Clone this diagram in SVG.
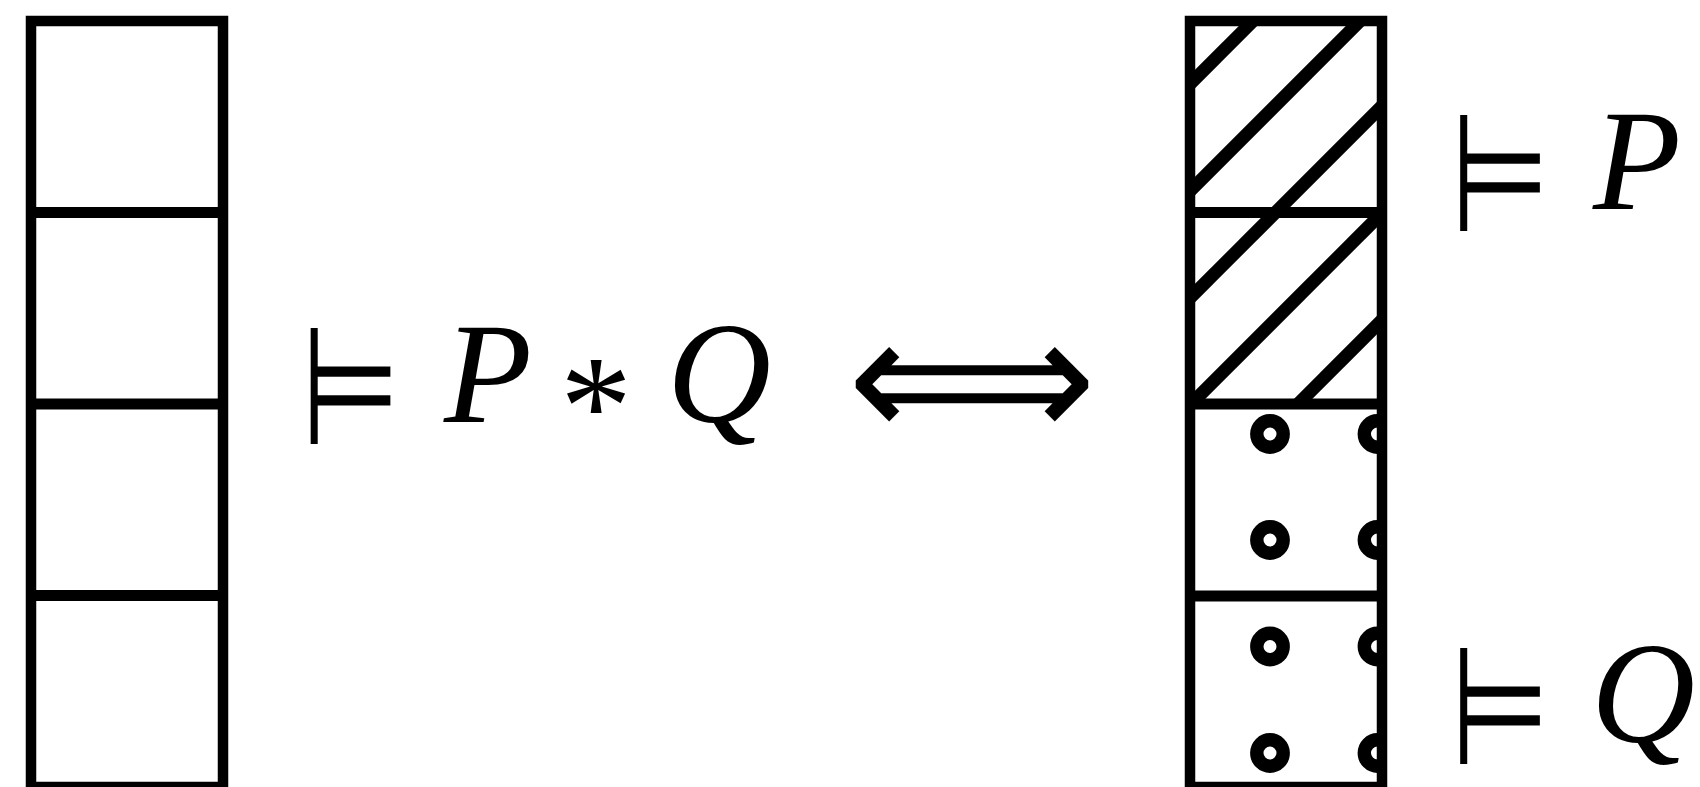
<svg xmlns="http://www.w3.org/2000/svg" width="1700" height="787" viewBox="0 0 1700 787">
<style>
.frame{fill:none;stroke:#000;stroke-width:10.5}
.div{stroke:#000;stroke-width:11}
.hatch{stroke:#000;stroke-width:13}
.dot{fill:none;stroke:#000;stroke-width:13.4}
.math{font-family:"Liberation Serif","Times New Roman",serif;font-style:italic;font-size:144px;fill:#000}
.op{font-family:"Liberation Serif","Times New Roman",serif;font-size:144px;fill:#000}
.sym{font-family:"DejaVu Sans",sans-serif;font-size:144px;fill:#000}
</style>
<defs>
<clipPath id="clipHatch"><rect x="1190" y="21" width="192" height="383"/></clipPath>
<clipPath id="clipDots"><rect x="1190" y="404" width="192" height="383"/></clipPath>
</defs>
<rect width="1700" height="787" fill="#fff"/>
<g id="left-column">
<rect class="frame" x="31" y="21" width="192" height="766"/>
<line class="div" x1="31" y1="212.5" x2="223" y2="212.5"/>
<line class="div" x1="31" y1="404" x2="223" y2="404"/>
<line class="div" x1="31" y1="595.5" x2="223" y2="595.5"/>
</g>
<g id="right-column">
<g clip-path="url(#clipHatch)">
<line class="hatch" x1="1100" y1="174" x2="1500" y2="-226"/>
<line class="hatch" x1="1100" y1="281" x2="1500" y2="-119"/>
<line class="hatch" x1="1100" y1="388" x2="1500" y2="-12"/>
<line class="hatch" x1="1100" y1="495" x2="1500" y2="95"/>
<line class="hatch" x1="1100" y1="602" x2="1500" y2="202"/>
</g>
<g clip-path="url(#clipDots)">
<circle class="dot" cx="1270" cy="434" r="13.2"/>
<circle class="dot" cx="1377.5" cy="434" r="13.2"/>
<circle class="dot" cx="1270" cy="540" r="13.2"/>
<circle class="dot" cx="1377.5" cy="540" r="13.2"/>
<circle class="dot" cx="1270" cy="646.5" r="13.2"/>
<circle class="dot" cx="1377.5" cy="646.5" r="13.2"/>
<circle class="dot" cx="1270" cy="753" r="13.2"/>
<circle class="dot" cx="1377.5" cy="753" r="13.2"/>
</g>
<rect class="frame" x="1190" y="21" width="192" height="766"/>
<line class="div" x1="1190" y1="212.5" x2="1382" y2="212.5"/>
<line class="div" x1="1190" y1="404" x2="1382" y2="404"/>
<line class="div" x1="1190" y1="596" x2="1382" y2="596"/>
</g>
<g id="label-whole">
<text class="sym" transform="translate(301,443.6) scale(0.79,1.15)">⊨</text>
<text class="math" x="444" y="422">P</text>
<text class="op" x="596" y="455" text-anchor="middle">*</text>
<text class="math" x="667" y="422">Q</text>
</g>
<g id="connectors">
<text class="sym" x="972" y="439" text-anchor="middle" style="font-size:174px">⟺</text>
</g>
<g id="label-top">
<text class="sym" transform="translate(1450.5,231.3) scale(0.79,1.15)">⊨</text>
<text class="math" x="1593" y="209">P</text>
</g>
<g id="label-bottom">
<text class="sym" transform="translate(1450.5,764.1) scale(0.79,1.15)">⊨</text>
<text class="math" x="1591" y="742">Q</text>
</g>
</svg>
